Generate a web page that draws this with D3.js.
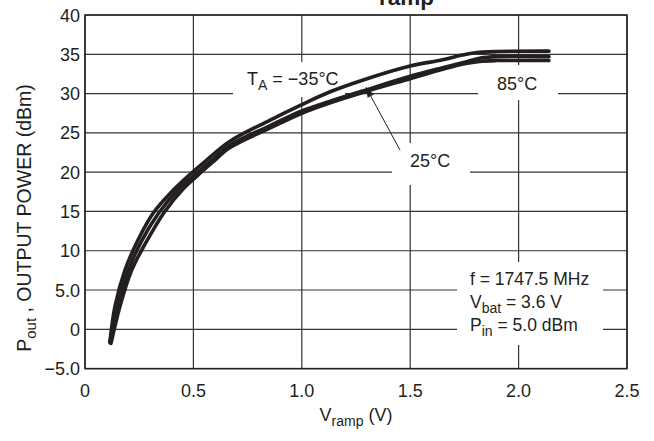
<!DOCTYPE html>
<meta charset="utf-8">
<style>
body { margin: 0; background: #fff; }
text { font-family: "Liberation Sans", Arial, Helvetica, sans-serif; fill: #231f20; }
.grid { stroke: #333; stroke-width: 1.2px; }
.curve { fill: none; stroke: #231f20; stroke-width: 3.6px; stroke-linejoin: round; stroke-linecap: round; }
</style>
<body>
<script src="https://d3js.org/d3.v7.min.js"></script>
<script>

// tick labels
var xTicks = [0, 0.5, 1.0, 1.5, 2.0, 2.5];
var xTickLabels = ["0", "0.5", "1.0", "1.5", "2.0", "2.5"];
var yTicks = [40, 35, 30, 25, 20, 15, 10, 5, 0, -5];
var yTickLabels = ["40", "35", "30", "25", "20", "15", "10", "5.0", "0", "\u22125.0"];

// T_A = -35 C
var vCold = [0.115, 0.138, 0.184, 0.245, 0.315, 0.40, 0.48, 0.56, 0.667, 0.852, 1.0, 1.128, 1.28, 1.50, 1.65, 1.74, 1.80, 1.90, 2.14];
var pCold = [-1.6, 2.9, 7.5, 11.4, 14.8, 17.5, 19.6, 21.5, 23.9, 26.6, 28.6, 30.2, 31.7, 33.5, 34.3, 34.9, 35.2, 35.35, 35.4];
// 25 C
var vRoom = [0.115, 0.15, 0.20, 0.26, 0.34, 0.43, 0.50, 0.58, 0.667, 0.852, 1.0, 1.128, 1.30, 1.50, 1.65, 1.75, 1.82, 1.90, 2.14];
var pRoom = [-1.7, 2.9, 7.5, 11.2, 14.8, 17.8, 19.5, 21.4, 23.4, 25.9, 27.8, 29.0, 30.5, 32.2, 33.3, 34.0, 34.5, 34.7, 34.7];
// 85 C
var vHot = [0.12, 0.161, 0.215, 0.276, 0.368, 0.45, 0.52, 0.59, 0.667, 0.852, 1.0, 1.128, 1.30, 1.50, 1.65, 1.75, 1.82, 1.90, 2.14];
var pHot = [-1.8, 2.9, 7.5, 10.8, 15.0, 17.8, 19.6, 21.3, 23.1, 25.6, 27.5, 28.8, 30.3, 31.9, 33.1, 33.8, 34.1, 34.2, 34.2];

var width = 654, height = 441;
var x = d3.scaleLinear().domain([0, 2.5]).range([85, 627]);
var y = d3.scaleLinear().domain([-5, 40]).range([368.6, 15]);

var svg = d3.select("body").append("svg")
    .attr("width", width)
    .attr("height", height);

// grid
svg.selectAll(".vgrid").data(xTicks).enter().append("line")
    .attr("class", "grid")
    .attr("x1", function(d) { return x(d); }).attr("x2", function(d) { return x(d); })
    .attr("y1", y(40)).attr("y2", y(-5));
svg.selectAll(".hgrid").data(yTicks).enter().append("line")
    .attr("class", "grid")
    .attr("x1", x(0)).attr("x2", x(2.5))
    .attr("y1", function(d) { return y(d); }).attr("y2", function(d) { return y(d); });
svg.append("rect")
    .attr("x", x(0)).attr("y", y(40))
    .attr("width", x(2.5) - x(0)).attr("height", y(-5) - y(40))
    .attr("fill", "none").attr("stroke", "#231f20").attr("stroke-width", 1.5);

// white boxes behind labels
var boxes = [[233, 62, 112, 35], [478, 65, 80, 35], [392, 143, 78, 42], [457, 262, 146, 83]];
svg.selectAll(".box").data(boxes).enter().append("rect")
    .attr("x", function(d) { return d[0]; }).attr("y", function(d) { return d[1]; })
    .attr("width", function(d) { return d[2]; }).attr("height", function(d) { return d[3]; })
    .attr("fill", "#fff");

// curves
var line = d3.line()
    .x(function(d) { return x(d[0]); })
    .y(function(d) { return y(d[1]); })
    .curve(d3.curveCatmullRom.alpha(0.5));

[[vCold, pCold], [vRoom, pRoom], [vHot, pHot]].forEach(function(s) {
  svg.append("path")
      .datum(d3.zip(s[0], s[1]))
      .attr("class", "curve")
      .attr("d", line);
});

// tick labels
svg.selectAll(".xt").data(xTicks).enter().append("text")
    .attr("x", function(d) { return x(d); })
    .attr("y", 397)
    .attr("text-anchor", "middle")
    .attr("font-size", 18)
    .text(function(d, i) { return xTickLabels[i]; });
svg.selectAll(".yt").data(yTicks).enter().append("text")
    .attr("x", 80)
    .attr("y", function(d) { return y(d) + 6.5; })
    .attr("text-anchor", "end")
    .attr("font-size", 18)
    .text(function(d, i) { return yTickLabels[i]; });

// axis titles
var xl = svg.append("text").attr("x", 356).attr("y", 421)
    .attr("text-anchor", "middle").attr("font-size", 18);
xl.append("tspan").text("V");
xl.append("tspan").attr("font-size", 14).attr("dy", 5).text("ramp");
xl.append("tspan").attr("dy", -5).text(" (V)");

var yl = svg.append("text")
    .attr("transform", "translate(31,218) rotate(-90)")
    .attr("text-anchor", "middle").attr("font-size", 19.5);
yl.append("tspan").text("P");
yl.append("tspan").attr("font-size", 15).attr("dy", 5).text("out");
yl.append("tspan").attr("dy", -5).text(" , OUTPUT POWER (dBm)");

// title (cut off at the top edge, as in the source)
var tl = svg.append("text").attr("x", 434).attr("y", -7)
    .attr("text-anchor", "end").attr("font-size", 26).attr("font-weight", "bold");
tl.append("tspan").text("Output Power versus V");
tl.append("tspan").attr("font-size", 22.5).attr("dy", 12).text("ramp");

// curve labels
var t1 = svg.append("text").attr("x", 247).attr("y", 85).attr("font-size", 18);
t1.append("tspan").text("T");
t1.append("tspan").attr("font-size", 14).attr("dy", 5).text("A");
t1.append("tspan").attr("dy", -5).text(" = \u221235\u00b0C");
svg.append("text").attr("x", 497).attr("y", 90).attr("font-size", 18).text("85\u00b0C");
svg.append("text").attr("x", 410).attr("y", 167).attr("font-size", 18).text("25\u00b0C");

// arrow to 25 C curve
var tip = [x(1.296), y(30.8)], tail = [x(1.453), y(22.8)];
svg.append("line")
    .attr("x1", tail[0]).attr("y1", tail[1]).attr("x2", tip[0]).attr("y2", tip[1])
    .attr("stroke", "#231f20").attr("stroke-width", 1);
var ang = Math.atan2(tip[1] - tail[1], tip[0] - tail[0]);
var hl = 10, hw = 3.5;
var bx = tip[0] - hl * Math.cos(ang), by = tip[1] - hl * Math.sin(ang);
svg.append("path")
    .attr("d", "M" + tip[0] + "," + tip[1] +
        "L" + (bx - hw * Math.sin(ang)) + "," + (by + hw * Math.cos(ang)) +
        "L" + (bx + hw * Math.sin(ang)) + "," + (by - hw * Math.cos(ang)) + "Z")
    .attr("fill", "#231f20");

// conditions
var c1 = svg.append("text").attr("x", 470).attr("y", 285).attr("font-size", 17.5);
c1.text("f = 1747.5 MHz");
var c2 = svg.append("text").attr("x", 470).attr("y", 308).attr("font-size", 17.5);
c2.append("tspan").text("V");
c2.append("tspan").attr("font-size", 14).attr("dy", 5).text("bat");
c2.append("tspan").attr("dy", -5).text(" = 3.6 V");
var c3 = svg.append("text").attr("x", 470).attr("y", 331).attr("font-size", 17.5);
c3.append("tspan").text("P");
c3.append("tspan").attr("font-size", 14).attr("dy", 5).text("in");
c3.append("tspan").attr("dy", -5).text(" = 5.0 dBm");

</script>
</body>
